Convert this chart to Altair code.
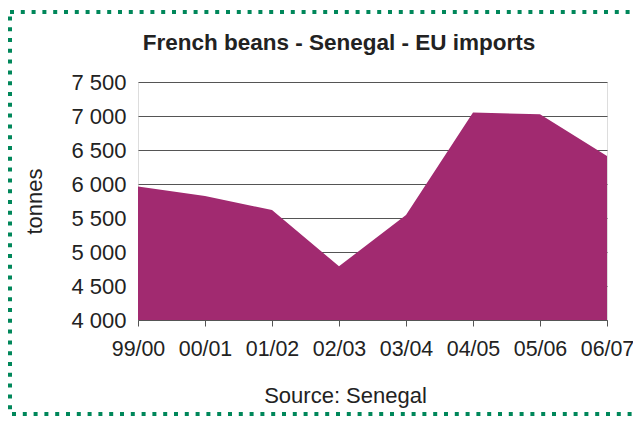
import altair as alt
import pandas as pd

seasons = ["99/00", "00/01", "01/02", "02/03", "03/04", "04/05", "05/06", "06/07"]
imports = [5962, 5824, 5618, 4790, 5545, 7050, 7025, 6410]
y_ticks = [4000, 4500, 5000, 5500, 6000, 6500, 7000, 7500]
title_text = ["French beans - Senegal - EU imports"]

df = pd.DataFrame({"season": seasons, "tonnes": imports})
frame_df = pd.DataFrame({"k": [0]})
title_df = pd.DataFrame({"t": title_text})

FONT = "Liberation Sans"
FS = 22
W, H = 469, 238

area = alt.Chart(df).mark_area(color="#A12A70", opacity=1, clip=True).encode(
    x=alt.X("season:N", sort=seasons,
            scale=alt.Scale(type="point", padding=0),
            axis=alt.Axis(title="Source: Senegal", labelAngle=0, labelFontSize=21.4,
                          labelFont=FONT, labelColor="#222", labelPadding=12,
                          labelOverlap=False, labelBound=False,
                          tickSize=6, tickColor="#555", domainColor="#555",
                          titleFont=FONT, titleFontSize=FS, titleFontWeight="normal",
                          titleColor="#222", titleX=207, titleY=82,
                          titleBaseline="alphabetic", titleAnchor="middle",
                          titleAlign="center", grid=False)),
    y=alt.Y("tonnes:Q", scale=alt.Scale(domain=[4000, 7500], nice=False, zero=False),
            axis=alt.Axis(title="tonnes", values=y_ticks,
                          labelExpr="replace(format(datum.value, ','), ',', ' ')",
                          labelFontSize=FS, labelFont=FONT, labelColor="#222",
                          labelPadding=12, ticks=False, domain=False,
                          grid=True, gridColor="#555", gridWidth=1,
                          titleFont=FONT, titleFontSize=FS, titleFontWeight="normal",
                          titleColor="#222", titleX=-104, titleBaseline="middle",
                          titleAngle=-90)),
)

frame = alt.Chart(frame_df).mark_rect(
    filled=False, stroke="#00875A", strokeWidth=4, strokeDash=[4, 6.8]
).encode(
    x=alt.value(-128), x2=alt.value(700), y=alt.value(-70), y2=alt.value(332)
)

title = alt.Chart(title_df).mark_text(
    font=FONT, fontSize=22.5, fontWeight="bold", color="#222",
    align="center", baseline="alphabetic"
).encode(text="t:N", x=alt.value(201), y=alt.value(-32))

chart = alt.layer(frame, area, title).properties(
    width=W, height=H,
    autosize=alt.AutoSizeParams(type="none"),
    padding={"left": 130, "top": 74, "right": 26, "bottom": 96},
).configure_view(stroke=None).configure(background="white")

chart.save("out.html", embed_options={"renderer": "svg", "actions": False})
